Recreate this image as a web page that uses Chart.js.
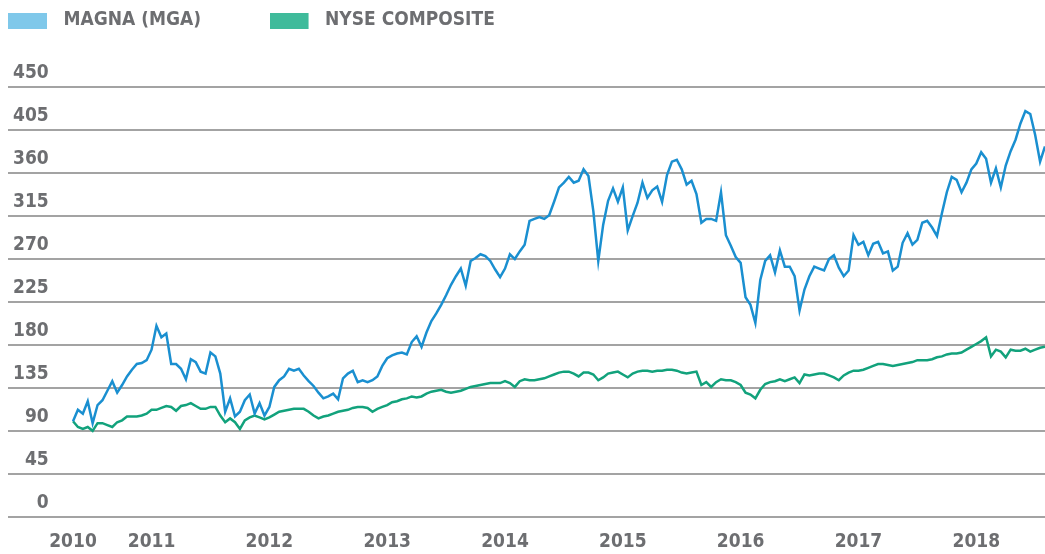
<!DOCTYPE html>
<html>
<head>
<meta charset="utf-8">
<script src="https://cdn.jsdelivr.net/npm/chart.js@4"></script>
<style>
  body { margin: 0; background: #fff; }
  #wrap { width: 1045px; height: 554px; }
</style>
</head>
<body>
<div id="wrap"><canvas id="stockChart" width="1045" height="554"></canvas></div>
<script>
/* ---- Magna (MGA) vs NYSE Composite, indexed to 100, semi-monthly from May 2010 ---- */

var seriesLabels = ["MAGNA (MGA)", "NYSE COMPOSITE"];

var magna = [
  100, 112, 108, 121, 98, 117, 122, 132, 142, 130, 138, 147, 154, 160, 161, 164, 175, 200, 188, 192,
  160, 160, 155, 144, 165, 162, 152, 150, 172, 168, 150, 110, 124, 105, 110, 122, 128, 108, 119, 106,
  115, 136, 143, 147, 155, 153, 155, 148, 142, 137, 130, 124, 126, 129, 123, 145, 150, 153, 141, 143,
  141, 143, 147, 158, 166, 169, 171, 172, 170, 183, 189, 178, 193, 205, 213, 222, 232, 243, 252, 260,
  242, 268, 271, 275, 273, 268, 259, 251, 260, 275, 270, 278, 285, 310, 312, 314, 312, 316, 330, 345,
  350, 356, 350, 352, 364, 357, 320, 268, 306, 331, 344, 330, 345, 300, 315, 329, 350, 334, 342, 346,
  330, 358, 372, 374, 364, 348, 352, 338, 308, 312, 312, 310, 340, 295, 284, 272, 266, 230, 222, 203,
  248, 268, 274, 256, 279, 262, 262, 252, 216, 238, 252, 262, 260, 258, 270, 274, 261, 252, 258, 295,
  285, 288, 274, 286, 288, 276, 278, 258, 262, 287, 297, 285, 290, 308, 310, 303, 294, 318, 340, 356,
  353, 340, 350, 364, 370, 382, 375, 350, 365, 345, 368, 383, 395, 412, 425, 422, 400, 372, 388
];

var nyse = [
  100, 94, 92, 94, 90, 98, 98, 96, 94, 99, 101, 105, 105, 105, 106, 108, 112, 112, 114, 116,
  115, 111, 116, 117, 119, 116, 113, 113, 115, 115, 106, 99, 103, 99, 92, 101, 104, 106, 104, 102,
  104, 107, 110, 111, 112, 113, 113, 113, 110, 106, 103, 105, 106, 108, 110, 111, 112, 114, 115, 115,
  114, 110, 113, 115, 117, 120, 121, 123, 124, 126, 125, 126, 129, 131, 132, 133, 131, 130, 131, 132,
  134, 136, 137, 138, 139, 140, 140, 140, 142, 140, 136, 142, 144, 143, 143, 144, 145, 147, 149, 151,
  152, 152, 150, 147, 151, 151, 149, 143, 146, 150, 151, 152, 149, 146, 150, 152, 153, 153, 152, 153,
  153, 154, 154, 153, 151, 150, 151, 152, 138, 141, 136, 141, 144, 143, 143, 141, 138, 130, 128, 124,
  133, 139, 141, 142, 144, 142, 144, 146, 140, 149, 148, 149, 150, 150, 148, 146, 143, 148, 151, 153,
  153, 154, 156, 158, 160, 160, 159, 158, 159, 160, 161, 162, 164, 164, 164, 165, 167, 168, 170, 171,
  171, 172, 175, 178, 181, 184, 188, 168, 175, 173, 167, 175, 174, 174, 176, 173, 175, 177, 178
];

// one point every half month, starting 1 May 2010
var dates = magna.map(function (v, i) { return 2010 + 4 / 12 + i / 24; });

var xTickValues = [2010 + 4 / 12, 2011, 2012, 2013, 2014, 2015, 2016, 2017, 2018];
var xTickLabels = ["2010", "2011", "2012", "2013", "2014", "2015", "2016", "2017", "2018"];
var yTicks = [0, 45, 90, 135, 180, 225, 270, 315, 360, 405, 450];

var lineColors = ["#1a8fd0", "#12a27c"];
var legendColors = ["#7fc8ea", "#3fbb9b"];

var font = "'DejaVu Sans Condensed', 'DejaVu Sans', sans-serif";
var grey = "#6d6e71";

function swatch(color) {
  var c = document.createElement("canvas");
  c.width = 46;
  c.height = 16;
  var g = c.getContext("2d");
  g.fillStyle = color;
  g.fillRect(0, 0, 39, 16);
  return c;
}

new Chart("stockChart", {
  type: "line",
  data: {
    datasets: [
      {
        label: seriesLabels[0],
        data: dates.map(function (d, i) { return {x: d, y: magna[i]}; }),
        borderColor: lineColors[0],
        backgroundColor: legendColors[0],
        borderWidth: 2.5,
        pointRadius: 0,
        tension: 0
      },
      {
        label: seriesLabels[1],
        data: dates.map(function (d, i) { return {x: d, y: nyse[i]}; }),
        borderColor: lineColors[1],
        backgroundColor: legendColors[1],
        borderWidth: 2.5,
        pointRadius: 0,
        tension: 0
      }
    ]
  },
  options: {
    responsive: false,
    animation: false,
    layout: {padding: {top: 11, left: 8, right: 0, bottom: 0}},
    plugins: {
      tooltip: {enabled: false},
      legend: {
        display: true,
        position: "top",
        align: "start",
        labels: {
          padding: 0,
          usePointStyle: true,
          pointStyleWidth: 46,
          color: grey,
          font: {family: font, size: 19, weight: "bold"},
          generateLabels: function (chart) {
            return chart.data.datasets.map(function (ds, i) {
              return {
                // trailing spaces give the gap between the two legend items
                text: ds.label + (i === 0 ? "\u2003\u2003\u2003\u2003" : ""),
                pointStyle: swatch(legendColors[i]),
                fillStyle: legendColors[i],
                strokeStyle: legendColors[i],
                lineWidth: 0,
                fontColor: grey,
                hidden: false,
                datasetIndex: i
              };
            });
          }
        }
      }
    },
    scales: {
      x: {
        type: "linear",
        min: 2010 + 4 / 12 - 65 / 117.8,
        max: dates[dates.length - 1],
        grid: {display: false, drawTicks: false},
        border: {display: false},
        afterFit: function (scale) { scale.height = 37.3; },
        afterBuildTicks: function (scale) {
          scale.ticks = xTickValues.map(function (v) { return {value: v}; });
        },
        ticks: {
          autoSkip: false,
          maxRotation: 0,
          padding: 14,
          color: grey,
          font: {family: font, size: 19, weight: "bold"},
          callback: function (v, i) { return xTickLabels[i]; }
        }
      },
      y: {
        min: 0,
        max: 499.5,
        grid: {color: "#a3a3a3", lineWidth: 2, drawTicks: false},
        border: {display: false},
        afterFit: function (scale) { scale.width = 0; },
        afterBuildTicks: function (scale) {
          scale.ticks = yTicks.map(function (v) { return {value: v}; });
        },
        ticks: {
          mirror: true,
          crossAlign: "far",
          padding: 5,
          labelOffset: -14,
          color: grey,
          font: {family: font, size: 19, weight: "bold"}
        }
      }
    }
  }
});
</script>
</body>
</html>
